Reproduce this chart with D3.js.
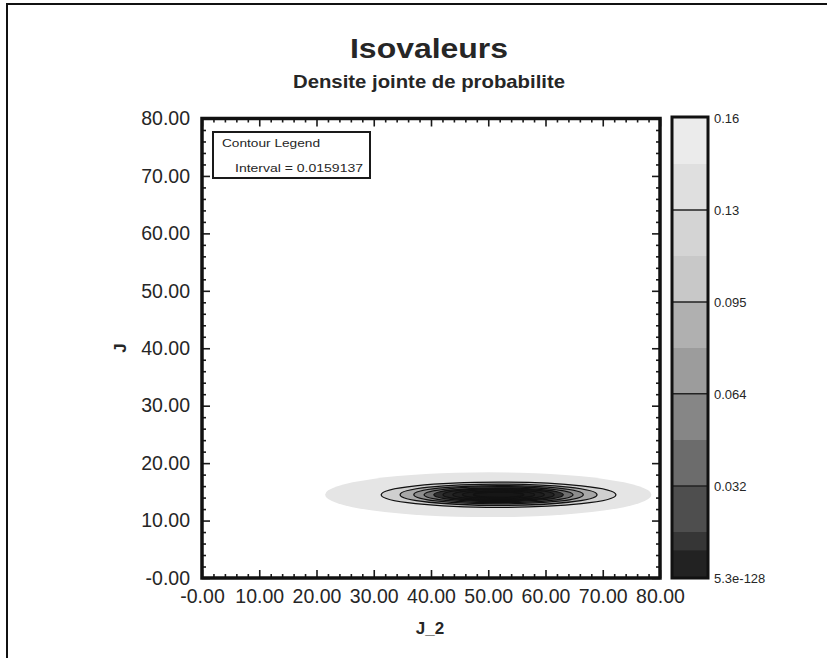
<!DOCTYPE html>
<html>
<head>
<meta charset="utf-8">
<script src="https://cdn.jsdelivr.net/npm/d3@7"></script>
<style>
  body { margin: 0; background: #fff; }
  svg { display: block; }
  text { font-family: "Liberation Sans", Arial, Helvetica, sans-serif; fill: #262626; }
</style>
</head>
<body>
<svg id="chart" width="827" height="658"></svg>
<script>
// Axis ticks (J_2 horizontally, J vertically)
const xTickValues = [0, 10, 20, 30, 40, 50, 60, 70, 80];
const yTickValues = [0, 10, 20, 30, 40, 50, 60, 70, 80];
const minorStep = 2;

// Contour levels of the joint density (interval 0.0159137)
const contourInterval = 0.0159137;
const contourLevels = [0.0159, 0.0318, 0.0477, 0.0637, 0.0796, 0.0955, 0.1114, 0.1273, 0.1432];
// Semi-axes of each iso-density ellipse, in data units
const contourHalfJ2 = [20.5, 17.2, 14.8, 13.0, 11.3, 9.7, 8.0, 6.3, 4.4];
const contourHalfJ  = [2.2, 1.85, 1.6, 1.4, 1.2, 1.05, 0.87, 0.68, 0.47];
// Faint outer fringe below the first level
const fringeHalfJ2 = 28.5;
const fringeHalfJ = 3.9;
const fringeCenterJ2 = 50.0;
// Mode of the density
const centerJ2 = 51.8;
const centerJ = 14.5;

// Colour bar
const colorbarMax = 0.159137;
const colorbarTicks = [0, 0.0318, 0.0637, 0.0955, 0.1273, 0.159137];
const colorbarLabels = ["5.3e-128", "0.032", "0.064", "0.095", "0.13", "0.16"];
const colorbarShades = ["#363636", "#4e4e4e", "#6c6c6c", "#868686", "#9c9c9c",
                        "#b0b0b0", "#c8c8c8", "#d4d4d4", "#dfdfdf", "#ebebeb"];
// Fills of the plotted bands, outermost first (fringe, then each level)
const bandShades = ["#e5e5e5", "#cfcfcf", "#a8a8a8", "#8e8e8e", "#707070",
                    "#2e2e2e", "#242424", "#1e1e1e", "#1a1a1a", "#161616"];

const svg = d3.select("#chart");

// page frame
svg.append("path")
  .attr("d", "M7,658 L7,4 L827,4")
  .attr("fill", "none").attr("stroke", "#111").attr("stroke-width", 2);

// titles
svg.append("text").attr("x", 429).attr("y", 58).attr("text-anchor", "middle")
  .attr("font-size", 28).attr("font-weight", "bold")
  .attr("textLength", 158).attr("lengthAdjust", "spacingAndGlyphs")
  .text("Isovaleurs");
svg.append("text").attr("x", 429).attr("y", 88).attr("text-anchor", "middle")
  .attr("font-size", 19).attr("font-weight", "bold")
  .attr("textLength", 272).attr("lengthAdjust", "spacingAndGlyphs")
  .text("Densite jointe de probabilite");

// plot area
const plotLeft = 202, plotRight = 660, plotTop = 118.5, plotBottom = 578;
const x = d3.scaleLinear().domain([0, 80]).range([plotLeft, plotRight]);
const y = d3.scaleLinear().domain([0, 80]).range([plotBottom, plotTop]);

const plot = svg.append("g");
plot.append("rect").attr("x", plotLeft).attr("y", plotTop)
  .attr("width", plotRight - plotLeft).attr("height", plotBottom - plotTop).attr("fill", "#fff");

// filled bands, drawn outside-in
const rings = [{cx: fringeCenterJ2, hx: fringeHalfJ2, hy: fringeHalfJ}]
  .concat(contourHalfJ2.map((hx, i) => ({cx: centerJ2, hx: hx, hy: contourHalfJ[i]})));

plot.selectAll("ellipse.band").data(rings).join("ellipse")
  .attr("class", "band")
  .attr("cx", d => x(d.cx))
  .attr("cy", y(centerJ))
  .attr("rx", d => x(d.cx + d.hx) - x(d.cx))
  .attr("ry", d => y(centerJ) - y(centerJ + d.hy))
  .attr("fill", (d, i) => bandShades[i]);

// contour lines
plot.selectAll("ellipse.iso").data(contourLevels).join("ellipse")
  .attr("class", "iso")
  .attr("cx", x(centerJ2))
  .attr("cy", y(centerJ))
  .attr("rx", (d, i) => x(centerJ2 + contourHalfJ2[i]) - x(centerJ2))
  .attr("ry", (d, i) => y(centerJ) - y(centerJ + contourHalfJ[i]))
  .attr("fill", "none").attr("stroke", "#111").attr("stroke-width", 1.3);

// ticks: major (labelled) and minor, inward on all four sides
const minorValues = d3.range(0, 80 + 1e-9, minorStep).filter(v => v % 10 !== 0);
function styleAxis(g) {
  g.select(".domain").remove();
  g.selectAll("line").attr("stroke", "#1a1a1a").attr("stroke-width", 1.6);
  g.selectAll("text").attr("font-size", 19.5).attr("fill", "#262626")
    .attr("font-family", "\"Liberation Sans\", Arial, sans-serif");
}
const fmt = v => (v === 0 ? "-0.00" : d3.format(".2f")(v));

svg.append("g").attr("transform", `translate(0,${plotBottom})`)
  .call(d3.axisBottom(x).tickValues(xTickValues).tickSizeInner(-8).tickSizeOuter(0)
        .tickPadding(11).tickFormat(fmt)).call(styleAxis);
svg.append("g").attr("transform", `translate(0,${plotBottom})`)
  .call(d3.axisBottom(x).tickValues(minorValues).tickSize(-4).tickFormat("")).call(styleAxis);
svg.append("g").attr("transform", `translate(0,${plotTop})`)
  .call(d3.axisTop(x).tickValues(xTickValues).tickSize(-8).tickFormat("")).call(styleAxis);
svg.append("g").attr("transform", `translate(0,${plotTop})`)
  .call(d3.axisTop(x).tickValues(minorValues).tickSize(-4).tickFormat("")).call(styleAxis);

svg.append("g").attr("transform", `translate(${plotLeft},0)`)
  .call(d3.axisLeft(y).tickValues(yTickValues).tickSizeInner(-8).tickSizeOuter(0)
        .tickPadding(12).tickFormat(fmt)).call(styleAxis);
svg.append("g").attr("transform", `translate(${plotLeft},0)`)
  .call(d3.axisLeft(y).tickValues(minorValues).tickSize(-4).tickFormat("")).call(styleAxis);
svg.append("g").attr("transform", `translate(${plotRight},0)`)
  .call(d3.axisRight(y).tickValues(yTickValues).tickSize(-8).tickFormat("")).call(styleAxis);
svg.append("g").attr("transform", `translate(${plotRight},0)`)
  .call(d3.axisRight(y).tickValues(minorValues).tickSize(-4).tickFormat("")).call(styleAxis);

// plot frame
svg.append("rect").attr("x", plotLeft).attr("y", plotTop)
  .attr("width", plotRight - plotLeft).attr("height", plotBottom - plotTop)
  .attr("fill", "none").attr("stroke", "#111").attr("stroke-width", 3.5);

// axis titles
svg.append("text").attr("x", 430).attr("y", 634).attr("text-anchor", "middle")
  .attr("font-size", 17).attr("font-weight", "bold").text("J_2");
svg.append("text").attr("transform", "translate(126,348) rotate(-90)")
  .attr("text-anchor", "middle").attr("font-size", 17).attr("font-weight", "bold").text("J");

// contour legend box
const legend = svg.append("g");
legend.append("rect").attr("x", 213).attr("y", 132).attr("width", 157).attr("height", 46)
  .attr("fill", "#fff").attr("stroke", "#1a1a1a").attr("stroke-width", 2);
legend.append("text").attr("x", 222).attr("y", 147).attr("font-size", 11.5)
  .attr("textLength", 98).attr("lengthAdjust", "spacingAndGlyphs").text("Contour Legend");
legend.append("text").attr("x", 235).attr("y", 172).attr("font-size", 11.5)
  .attr("textLength", 128).attr("lengthAdjust", "spacingAndGlyphs")
  .text("Interval = " + contourInterval);

// colour bar
const cbLeft = 672, cbRight = 708;
const cbY = d3.scaleLinear().domain([0, colorbarMax]).range([578, 118]);
const bands = d3.range(colorbarShades.length);
const cb = svg.append("g");
cb.selectAll("rect.cband").data(bands).join("rect")
  .attr("class", "cband")
  .attr("x", cbLeft).attr("width", cbRight - cbLeft)
  .attr("y", k => cbY((k + 1) * contourInterval))
  .attr("height", k => cbY(k * contourInterval) - cbY((k + 1) * contourInterval))
  .attr("fill", k => colorbarShades[k]);
// darkest foot of the lowest band
cb.append("rect").attr("x", cbLeft).attr("width", cbRight - cbLeft)
  .attr("y", cbY(contourInterval * 0.6)).attr("height", cbY(0) - cbY(contourInterval * 0.6))
  .attr("fill", "#222");
cb.selectAll("line.sep").data(colorbarTicks.slice(1, -1)).join("line")
  .attr("class", "sep")
  .attr("x1", cbLeft).attr("x2", cbRight)
  .attr("y1", d => cbY(d)).attr("y2", d => cbY(d))
  .attr("stroke", "#222").attr("stroke-width", 1.5);
cb.append("rect").attr("x", cbLeft).attr("y", 117)
  .attr("width", cbRight - cbLeft).attr("height", 578 - 117)
  .attr("fill", "none").attr("stroke", "#111").attr("stroke-width", 3);

svg.append("g").attr("transform", `translate(${cbRight},0)`)
  .call(d3.axisRight(cbY).tickValues(colorbarTicks).tickSize(0).tickPadding(6)
        .tickFormat((d, i) => colorbarLabels[i]))
  .call(g => {
    g.select(".domain").remove();
    g.selectAll("text").attr("font-size", 13).attr("fill", "#262626")
      .attr("font-family", "\"Liberation Sans\", Arial, sans-serif");
  });
</script>
</body>
</html>
